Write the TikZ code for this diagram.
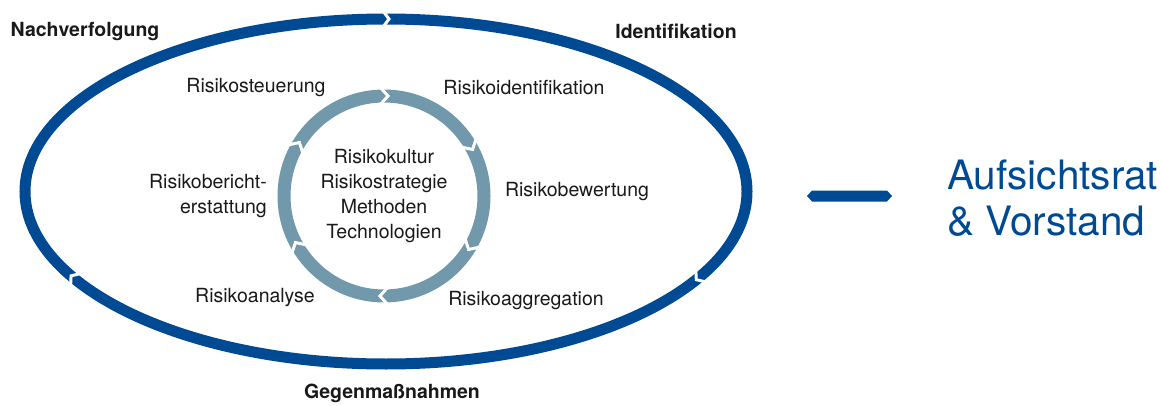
\documentclass[tikz,border=0pt]{standalone}
\usepackage{fontspec}
\setmainfont{TeX Gyre Heros}
\usepackage{tikz}
\definecolor{darkblue}{RGB}{0,74,148}
\definecolor{steel}{RGB}{114,152,172}
\definecolor{txt}{RGB}{25,25,25}
\tikzset{
  outerring/.style={draw=darkblue, line width=11pt},
  innerring/.style={draw=steel, line width=13pt},
  gap/.style={draw=white, line width=3pt, line join=miter},
  phase/.style={font=\fontsize{19.5}{24}\selectfont\bfseries, text=txt, inner sep=0pt},
  step label/.style={font=\fontsize{19.5}{25}\selectfont, text=txt, inner sep=0pt},
}

\begin{document}
\begin{tikzpicture}[x=1pt,y=1pt]
\useasboundingbox (0,0) rectangle (1162,405);
\coordinate (E) at (386,213.5);
\coordinate (Ci) at (384,209);
\def\r{100}
\coordinate (J1) at (386,386);
\coordinate (J2) at (698.6,127.25);
\coordinate (J3) at (73.4,127.25);

\draw[outerring] (E) ellipse [x radius=361pt, y radius=172.5pt];
\draw[gap, shift={(J1)}, rotate=0] (-3,8) -- (3,0) -- (-3,-8);
\draw[gap, shift={(J2)}, rotate=-140.4] (-3,8) -- (3,0) -- (-3,-8);
\draw[gap, shift={(J3)}, rotate=140.4] (-3,8) -- (3,0) -- (-3,-8);

\draw[innerring] (Ci) circle [radius=100pt];
\draw[gap, shift={(Ci)}, rotate=90] (\r-10,5) -- (\r,-4) -- (\r+10,5);
\draw[gap, shift={(Ci)}, rotate=30] (\r-10,5) -- (\r,-4) -- (\r+10,5);
\draw[gap, shift={(Ci)}, rotate=-30] (\r-10,5) -- (\r,-4) -- (\r+10,5);
\draw[gap, shift={(Ci)}, rotate=-90] (\r-10,5) -- (\r,-4) -- (\r+10,5);
\draw[gap, shift={(Ci)}, rotate=-150] (\r-10,5) -- (\r,-4) -- (\r+10,5);
\draw[gap, shift={(Ci)}, rotate=150] (\r-10,5) -- (\r,-4) -- (\r+10,5);

\node[phase] (nachverfolgung) at (85,373) {Nachverfolgung};
\node[phase] (identifikation) at (676,374) {Identifikation};
\node[phase] (gegenmassnahmen) at (392,12) {Gegenmaßnahmen};

\node[step label] (steuerung) at (256,317) {Risikosteuerung};
\node[step label] (identifik) at (524,317) {Risikoidentifikation};
\node[step label] (bewertung) at (577,213) {Risikobewertung};
\node[step label] (aggregation) at (526,104) {Risikoaggregation};
\node[step label] (analyse) at (255,107) {Risikoanalyse};
\node[step label, align=right, anchor=east] (bericht) at (267,209) {Risikobericht-\\erstattung};
\node[step label, align=center] (kern) at (Ci) {Risikokultur\\Risikostrategie\\Methoden\\Technologien};

\fill[darkblue] (807,209) -- (812,214.5) -- (887,214.5) -- (892,209) -- (887,203.5) -- (812,203.5) -- cycle;
\node[font=\fontsize{40.5}{46}\selectfont, text=darkblue, align=left, anchor=west, inner sep=0pt] (gremium) at (947,207) {Aufsichtsrat\\\& Vorstand};
\end{tikzpicture}
\end{document}
